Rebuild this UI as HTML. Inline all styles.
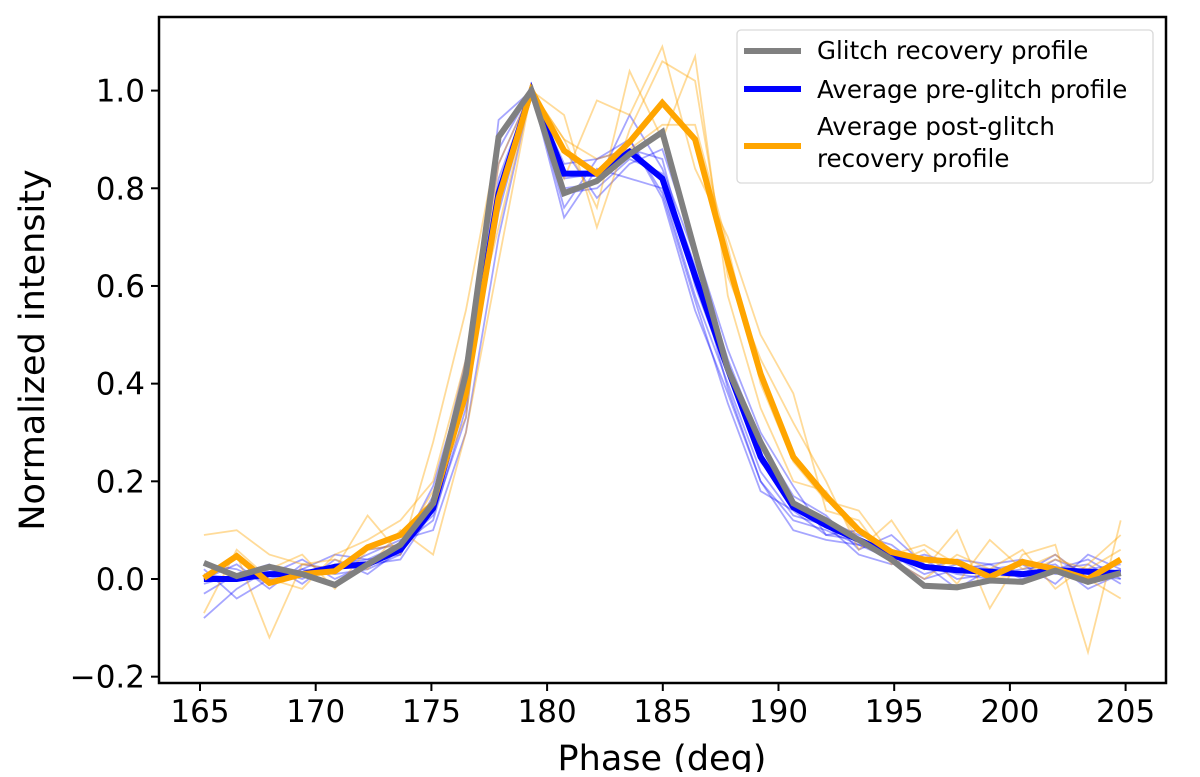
<!DOCTYPE html>
<html><head><meta charset="utf-8"><style>
body{margin:0;background:#fff;}
svg text{font-family:"DejaVu Sans","Liberation Sans",sans-serif;fill:#000;}
</style></head><body>
<svg id="chart" width="1200" height="772" viewBox="0 0 1200 772" xmlns="http://www.w3.org/2000/svg">
<g id="faint"></g>
<g id="main"></g>
<g id="axes"></g>
</svg>
<script>
const phaseStart = 165.17;
const phaseStep = 1.415;
const preAvg = [0.0,0.0,0.01,0.01,0.025,0.03,0.06,0.145,0.39,0.79,1.0,0.83,0.83,0.875,0.82,0.62,0.43,0.25,0.147,0.11,0.08,0.05,0.025,0.018,0.015,0.01,0.018,0.015,0.012];
const glitchProfile = [0.033,0.006,0.025,0.01,-0.012,0.03,0.07,0.155,0.42,0.905,1.0,0.79,0.815,0.87,0.915,0.67,0.43,0.28,0.155,0.12,0.08,0.04,-0.014,-0.017,-0.003,-0.006,0.017,-0.006,0.012];
const postAvg = [0.002,0.047,-0.008,0.01,0.016,0.065,0.09,0.155,0.38,0.78,1.0,0.877,0.83,0.895,0.975,0.90,0.65,0.42,0.25,0.17,0.10,0.055,0.04,0.035,0.004,0.035,0.02,0.0,0.04];
const preSingles = [
 [-0.08,-0.02,0.02,0.0,0.03,0.04,0.07,0.12,0.35,0.94,1.0,0.76,0.86,0.9,0.78,0.55,0.38,0.2,0.1,0.08,0.07,0.04,0.0,0.02,0.03,0.0,0.04,0.01,0.0],
 [0.02,-0.04,0.0,0.02,0.01,0.02,0.05,0.16,0.45,0.85,1.0,0.8,0.81,0.95,0.84,0.66,0.45,0.28,0.17,0.13,0.06,0.09,0.03,-0.02,0.02,0.03,-0.01,0.05,0.02],
 [0.0,0.03,-0.02,0.03,0.02,0.05,0.08,0.1,0.3,0.7,1.0,0.88,0.78,0.85,0.88,0.68,0.47,0.3,0.19,0.09,0.1,0.06,0.04,0.0,0.01,0.02,0.03,-0.02,0.01],
 [-0.03,0.01,0.03,-0.01,0.04,0.01,0.06,0.19,0.42,0.9,1.0,0.74,0.84,0.82,0.8,0.58,0.4,0.22,0.13,0.11,0.05,0.03,0.05,0.03,0.0,-0.01,0.02,0.03,-0.01],
 [0.01,0.0,0.01,0.04,0.0,0.03,0.04,0.14,0.37,0.75,1.0,0.85,0.86,0.88,0.86,0.6,0.42,0.24,0.16,0.12,0.09,0.07,0.02,0.04,0.03,0.04,0.01,0.02,0.03],
 [0.03,0.02,-0.01,0.02,0.05,0.04,0.05,0.17,0.4,0.82,1.0,0.79,0.8,0.86,0.83,0.64,0.39,0.2,0.12,0.1,0.07,0.05,0.01,0.03,0.02,0.01,0.05,0.0,0.02],
 [-0.01,0.01,0.02,0.01,0.02,0.06,0.07,0.13,0.33,0.88,1.0,0.82,0.83,0.9,0.79,0.57,0.36,0.18,0.14,0.09,0.08,0.06,0.03,0.01,0.0,0.03,0.02,0.04,0.0]
];
const postSingles = [
 [0.09,0.1,0.05,0.03,0.02,0.13,0.05,0.28,0.55,0.9,1.0,0.95,0.72,0.92,1.06,1.02,0.62,0.45,0.32,0.2,0.06,0.12,0.02,0.1,-0.06,0.05,0.07,-0.15,0.12],
 [0.0,0.05,-0.12,0.03,0.04,0.02,0.1,0.05,0.3,0.65,1.0,0.82,0.98,0.95,1.09,0.84,0.7,0.5,0.38,0.14,0.12,0.03,0.06,-0.01,0.08,0.02,0.05,0.0,-0.04],
 [-0.07,0.06,0.0,-0.02,0.05,0.08,0.12,0.2,0.45,0.72,1.0,0.9,0.76,1.04,0.9,1.07,0.58,0.35,0.2,0.18,0.08,0.04,0.0,0.05,0.02,0.06,-0.02,0.03,0.09],
 [0.03,0.0,0.02,0.05,-0.02,0.06,0.07,0.18,0.33,0.85,1.0,0.9,0.86,0.88,0.93,0.93,0.68,0.4,0.24,0.16,0.14,0.05,0.07,0.03,0.0,0.01,0.04,0.02,0.06]
];
const xTicks = [165,170,175,180,185,190,195,200,205];
const yTicks = [-0.2,0.0,0.2,0.4,0.6,0.8,1.0];
const legendLabels = ["Glitch recovery profile","Average pre-glitch profile","Average post-glitch","recovery profile"];

const NS="http://www.w3.org/2000/svg";
const L=159,R=1166,T=17,B=683;
function xs(v){return 200+(v-165)*23.14;}
function ys(v){return 579-v*488.4;}
function mk(tag,attrs,parent){const e=document.createElementNS(NS,tag);for(const k in attrs)e.setAttribute(k,attrs[k]);parent.appendChild(e);return e;}
function pts(arr){return arr.map((v,i)=>xs(phaseStart+i*phaseStep).toFixed(1)+","+ys(v).toFixed(1)).join(" ");}
const faint=document.getElementById('faint'),main=document.getElementById('main'),axes=document.getElementById('axes');
preSingles.forEach((s,i)=>{const p=mk('polyline',{points:pts(s),fill:'none',stroke:'#0000ff','stroke-opacity':0.35,'stroke-width':1.8},faint);

});
postSingles.forEach((s,i)=>{const p=mk('polyline',{points:pts(s),fill:'none',stroke:'#ffa500','stroke-opacity':0.4,'stroke-width':1.8},faint);

});
const pb=mk('polyline',{points:pts(preAvg),fill:'none',stroke:'#0000ff','stroke-width':6},main);


const po=mk('polyline',{points:pts(postAvg),fill:'none',stroke:'#ffa500','stroke-width':6},main);


const pg=mk('polyline',{points:pts(glitchProfile),fill:'none',stroke:'#808080','stroke-width':6},main);


const fr=mk('rect',{x:L,y:T,width:R-L,height:B-T,fill:'none',stroke:'#000','stroke-width':2.5},axes);


xTicks.forEach(t=>{const x=xs(t);mk('line',{x1:x,y1:B,x2:x,y2:B+8,stroke:'#000','stroke-width':2},axes);
const tx=mk('text',{x:x,y:B+39,'text-anchor':'middle','font-size':31},axes);tx.textContent=t;

});
yTicks.forEach(t=>{const y=ys(t);mk('line',{x1:L-8,y1:y,x2:L,y2:y,stroke:'#000','stroke-width':2},axes);
const tx=mk('text',{x:L-14,y:y+11,'text-anchor':'end','font-size':31},axes);tx.textContent=(t<0?'\u2212':'')+Math.abs(t).toFixed(1);

});
const xl=mk('text',{x:662,y:770,'text-anchor':'middle','font-size':35},axes);xl.textContent='Phase (deg)';


const yl=mk('text',{x:0,y:0,'text-anchor':'middle','font-size':35,transform:'translate(44,350) rotate(-90)'},axes);yl.textContent='Normalized intensity';


const lg=mk('g',{},axes);


mk('rect',{x:737,y:30,width:416,height:153,rx:4,fill:'#fff','fill-opacity':0.85,stroke:'#d9d9d9','stroke-width':1.3},lg);
const lcol=['#808080','#0000ff','#ffa500'];const ly=[51,89,146];
lcol.forEach((c,i)=>{const ln=mk('line',{x1:744,y1:ly[i],x2:801,y2:ly[i],stroke:c,'stroke-width':6},lg);

});
const lty=[59,98,135,167];
legendLabels.forEach((s,i)=>{const t=mk('text',{x:817,y:lty[i],'font-size':24.5},lg);t.textContent=s;

});
</script>
</body></html>
